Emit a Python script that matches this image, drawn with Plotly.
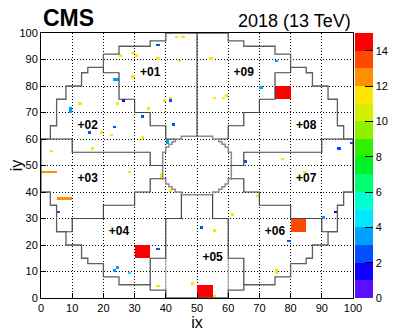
import numpy as np
import plotly.graph_objects as go

# single crystals: lower-left bin corner (ix, iy) and value
cell_ix = [43, 45, 37, 25, 29, 30, 37, 44, 29, 23, 24, 24, 26, 12, 9, 9, 34, 39, 41, 41,
           32, 42, 23, 15, 19, 22, 32, 40, 40, 16, 3,
           54, 75, 70, 55, 58, 59, 95, 99, 77, 65,
           0, 1, 2, 3, 4, 5, 6, 7, 8, 9, 28, 5, 38, 38, 41, 37, 23, 24, 28, 37, 48, 55, 51,
           84, 82, 69, 61, 90, 94, 55, 79, 75, 75]
cell_iy = [98, 98, 95, 91, 92, 91, 90, 89, 83, 82, 82, 73, 74, 73, 70, 71, 71, 74, 74, 75,
           68, 65, 64, 62, 62, 61, 60, 58, 59, 56, 55,
           90, 89, 79, 75, 75, 76, 56, 58, 52, 51,
           47, 47, 47, 47, 47, 37, 37, 37, 37, 37, 47, 32, 45, 46, 40, 18, 10, 11, 9, 4, 5, 0, 26,
           47, 45, 38, 31, 30, 32, 25, 21, 9, 10]
cell_val = [11.5, 11.5, 2.5, 11.5, 11.5, 11.5, 11.5, 11.5, 11.5, 3.5, 3.5, 11.5, 1.5, 11.5, 3.5, 3.5, 11.5, 11.5, 2.5, 11.5,
            2.5, 2.5, 2.5, 2.5, 11.5, 11.5, 11.5, 3.5, 3.5, 11.5, 11.5,
            11.5, 3.5, 3.5, 11.5, 11.5, 11.5, 2.5, 2.5, 11.5, 2.5,
            12.5, 12.5, 12.5, 12.5, 12.5, 12.5, 12.5, 12.5, 12.5, 12.5, 11.5, 2.5, 11.5, 11.5, 11.5, 2.5, 3.5, 3.5, 4.5, 11.5, 11.5, 11.5, 2.5,
            11.5, 11.5, 11.5, 11.5, 3.5, 1.5, 11.5, 2.5, 11.5, 11.5]

# hot 5x5 supercrystals: lower-left corner and value
sc_ix = [75, 30, 50, 80]
sc_iy = [75, 15, 0, 25]
sc_val = [14.5, 14.5, 14.5, 13.5]

# palette bands 0..15
band_colors = ["#5a10ff", "#1000ff", "#0050ff", "#00a0ff", "#00e8ff", "#00ffd2",
               "#00ff70", "#00f028", "#30f000", "#90f000", "#d2f000", "#ffe600",
               "#ff9000", "#ff4800", "#ff0000"]

# detector outline (outer edge and inner hole)
outer_x = [100, 100, 97, 97, 95, 95, 92, 92, 87, 87, 85, 85, 80, 80, 75, 75, 65, 65, 60, 60,
           40, 40, 35, 35, 25, 25, 20, 20, 15, 15, 13, 13, 8, 8, 5, 5, 3, 3, 0, 0,
           3, 3, 5, 5, 8, 8, 13, 13, 15, 15, 20, 20, 25, 25, 35, 35, 40, 40, 60, 60,
           65, 65, 75, 75, 80, 80, 85, 85, 87, 87, 92, 92, 95, 95, 97, 97, 100, 100]
outer_y = [50, 60, 60, 65, 65, 75, 75, 80, 80, 85, 85, 87, 87, 92, 92, 95, 95, 97, 97, 100,
           100, 97, 97, 95, 95, 92, 92, 87, 87, 85, 85, 80, 80, 75, 75, 65, 65, 60, 60, 40,
           40, 35, 35, 25, 25, 20, 20, 15, 15, 13, 13, 8, 8, 5, 5, 3, 3, 0, 0, 3,
           3, 5, 5, 8, 8, 13, 13, 15, 15, 20, 20, 25, 25, 35, 35, 40, 40, 50]
hole_x = [61, 61, 60, 60, 59, 59, 58, 58, 57, 57, 55, 55, 45, 45, 43, 43, 42, 42, 41, 41, 40, 40, 39,
          39, 40, 40, 41, 41, 42, 42, 43, 43, 45, 45, 55, 55, 57, 57, 58, 58, 59, 59, 60, 60, 61, 61]
hole_y = [50, 55, 55, 57, 57, 58, 58, 59, 59, 60, 60, 61, 61, 60, 60, 59, 59, 58, 58, 57, 57, 55, 55,
          45, 45, 43, 43, 42, 42, 41, 41, 40, 40, 39, 39, 40, 40, 41, 41, 42, 42, 43, 43, 45, 45, 50]

# sector boundaries, None separates lines
sector_x = [50, 50, None,
            43, 40, 40, 35, 35, 30, 30, 25, 25, 20, 20, None,
            57, 60, 60, 65, 65, 70, 70, 75, 75, 80, 80, None,
            39, 35, 35, 10, 10, 3, None,
            61, 65, 65, 90, 90, 97, None,
            39, 35, 35, 30, 30, 20, 20, 10, 10, 8, None,
            61, 65, 65, 70, 70, 80, 80, 90, 90, 92, None,
            45, 45, 40, 40, 35, 35, None,
            55, 55, 60, 60, 65, 65]
sector_y = [61, 100, None,
            60, 60, 65, 65, 70, 70, 75, 75, 85, 85, 87, None,
            60, 60, 65, 65, 70, 70, 75, 75, 85, 85, 87, None,
            50, 50, 55, 55, 60, 60, None,
            50, 50, 55, 55, 60, 60, None,
            45, 45, 40, 40, 35, 35, 30, 30, 25, 25, None,
            45, 45, 40, 40, 35, 35, 30, 30, 25, 25, None,
            39, 30, 30, 15, 15, 5, None,
            39, 30, 30, 15, 15, 5]
faint_x = [40, 40, None, 60, 60]
faint_y = [15, 0, None, 15, 0]

sector_names = ["+01", "+02", "+03", "+04", "+05", "+06", "+07", "+08", "+09"]
label_x = [35, 15, 15, 25, 55, 75, 85, 85, 65]
label_y = [85, 65, 45, 25, 15, 25, 45, 65, 85]

FONT = "Liberation Sans, Arial, sans-serif"

z = np.full((100, 100), np.nan)
for ix, iy, v in zip(cell_ix, cell_iy, cell_val):
    z[iy, ix] = v
for ix, iy, v in zip(sc_ix, sc_iy, sc_val):
    z[iy:iy + 5, ix:ix + 5] = v

n = len(band_colors)
colorscale = []
for i, c in enumerate(band_colors):
    colorscale.append([i / n, c])
    colorscale.append([(i + 1) / n, c])

fig = go.Figure()
fig.add_trace(go.Heatmap(
    x=np.arange(100) + 0.5, y=np.arange(100) + 0.5, z=z,
    zmin=0, zmax=15, colorscale=colorscale, hoverinfo="skip",
    colorbar=dict(x=1.0064, xanchor="left", xpad=0, y=0.5, yanchor="middle", ypad=0,
                  len=1, thickness=18, outlinewidth=0,
                  tickvals=list(range(0, 15, 2)), ticks="inside", ticklen=8,
                  tickcolor="black", tickfont=dict(family=FONT, size=11, color="black")),
))
fig.add_trace(go.Scatter(x=faint_x, y=faint_y, mode="lines",
                         line=dict(color="#b0b0b0", width=1.2), hoverinfo="skip"))
fig.add_trace(go.Scatter(x=hole_x, y=hole_y, mode="lines",
                         line=dict(color="#8c8c8c", width=1.5), hoverinfo="skip"))
fig.add_trace(go.Scatter(x=outer_x, y=outer_y, mode="lines",
                         line=dict(color="#5e5e5e", width=1.3), hoverinfo="skip"))
fig.add_trace(go.Scatter(x=sector_x, y=sector_y, mode="lines",
                         line=dict(color="#454545", width=1.2), hoverinfo="skip"))
fig.add_trace(go.Scatter(x=label_x, y=label_y, mode="text",
                         text=["<b>%s</b>" % s for s in sector_names],
                         textfont=dict(family=FONT, size=12, color="black"), hoverinfo="skip"))

axis_style = dict(range=[0, 100], tickvals=list(range(0, 101, 10)), showgrid=True,
                  gridcolor="black", griddash="1px,2px", gridwidth=1, zeroline=False,
                  showline=True, linecolor="black", linewidth=1, mirror=True,
                  ticks="inside", ticklen=5, tickcolor="black", automargin=False,
                  tickfont=dict(family=FONT, size=11, color="black"))
fig.update_xaxes(**axis_style, title=dict(text="ix", font=dict(family=FONT, size=16), standoff=4))
fig.update_yaxes(**axis_style, title=dict(text="iy", font=dict(family=FONT, size=16), standoff=6))

fig.add_annotation(text="<b>CMS</b>", xref="paper", yref="paper", x=0.0, y=1.058,
                   xanchor="left", yanchor="middle", showarrow=False,
                   font=dict(family=FONT, size=23, color="black"))
fig.add_annotation(text="2018 (13 TeV)", xref="paper", yref="paper", x=1.0, y=1.045,
                   xanchor="right", yanchor="middle", showarrow=False,
                   font=dict(family=FONT, size=18, color="black"))

# the page body adds an 8 px margin, so the figure is 8 px smaller and shifted
fig.update_layout(width=407, height=323, margin=dict(l=33, r=62, t=25, b=33, autoexpand=False),
                  plot_bgcolor="white", paper_bgcolor="white", showlegend=False,
                  font=dict(family=FONT, color="black"))
fig.write_html("out.html")
